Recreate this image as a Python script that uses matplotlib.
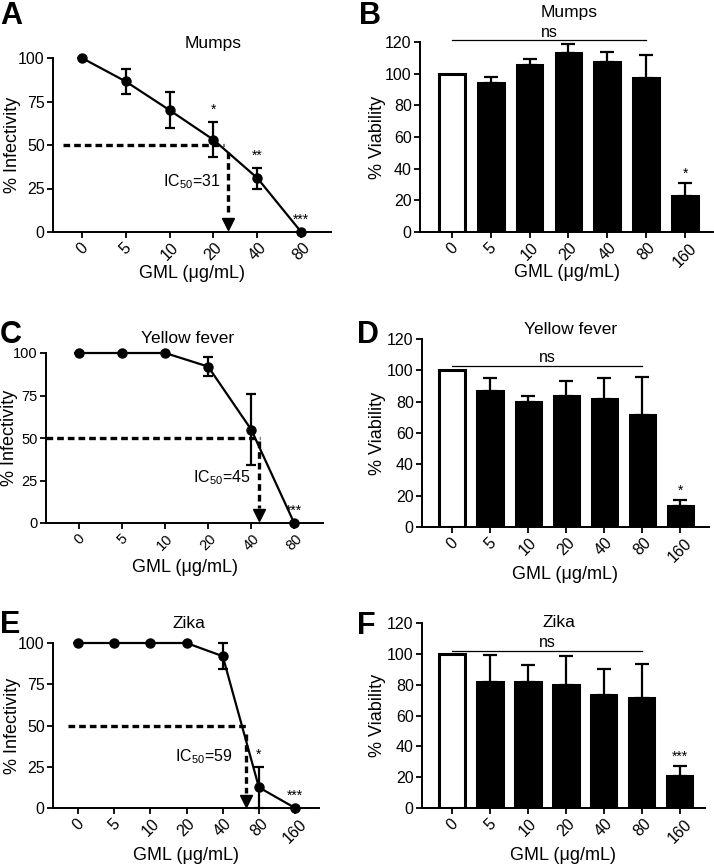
#!/usr/bin/env python3
# -*- coding=utf-8 -*-
from matplotlib import pyplot as plt

plt.rcParams['font.family'] = ['Liberation Sans', 'DejaVu Sans']
plt.rcParams['mathtext.fontset'] = 'custom'
plt.rcParams['mathtext.rm'] = 'Liberation Sans'
plt.rcParams['mathtext.it'] = 'Liberation Sans'

# 感染率数据 (A, C, E)
a_doses = ['0', '5', '10', '20', '40', '80']
a_mean = [100, 86.5, 70, 53, 31, 0]
a_err = [0, 7, 10.5, 10, 6, 0]
a_stars = ['', '', '', '*', '**', '***']

c_doses = ['0', '5', '10', '20', '40', '80']
c_mean = [100, 100, 100, 92, 55, 0]
c_err = [0, 0, 0, 5.5, 21, 0]
c_stars = ['', '', '', '', '', '***']

e_doses = ['0', '5', '10', '20', '40', '80', '160']
e_mean = [100, 100, 100, 100, 92, 12.5, 0]
e_err = [0, 0, 0, 0, 8, 12.5, 0]
e_stars = ['', '', '', '', '', '*', '***']

# 活力数据 (B, D, F)
bar_doses = ['0', '5', '10', '20', '40', '80', '160']
b_mean = [100, 94, 105.5, 113, 107.5, 97.5, 22.5]
b_err = [0, 4, 4, 5.5, 6.5, 14, 8.5]
b_stars = ['', '', '', '', '', '', '*']

d_mean = [100, 87, 79.5, 83.5, 81.5, 71.5, 13.5]
d_err = [0, 8, 4, 10, 13.5, 24.5, 3.5]
d_stars = ['', '', '', '', '', '', '*']

f_mean = [100, 82, 82, 80, 73.5, 71.5, 20.5]
f_err = [0, 17, 11, 18.5, 16.5, 22, 6.5]
f_stars = ['', '', '', '', '', '', '***']

W, H = 714, 865
fig = plt.figure(figsize=(W / 100, H / 100), dpi=100)


def add_ax(left, top, right, bottom):
    return fig.add_axes([left / W, 1 - bottom / H, (right - left) / W, (bottom - top) / H])


def style(ax, labels, xlim, ymax, yticks, ylabel, xlab_y, ylab_x, tsize=11.5):
    for s in ['top', 'right']:
        ax.spines[s].set_visible(False)
    for s in ['left', 'bottom']:
        ax.spines[s].set_linewidth(1.4)
    ax.tick_params(direction='out', length=4, width=1.3, labelsize=tsize, pad=2)
    ax.set_xticks(range(len(labels)))
    ax.set_xticklabels(labels, rotation=45)
    ax.set_xlim(*xlim)
    ax.set_ylim(0, ymax)
    ax.set_yticks(yticks)
    ax.set_ylabel(ylabel, fontsize=13)
    ax.set_xlabel('GML (μg/mL)', fontsize=13)
    ax.yaxis.set_label_coords(ylab_x, 0.5)
    ax.xaxis.set_label_coords(0.5, xlab_y)


def line_panel(ax, labels, mean, err, stars, title, title_pos, xlim,
               hline, vline, ic_text, ic_pos, xlab_y, ylab_x, tsize=11.5):
    x = list(range(len(labels)))
    ax.errorbar(x, mean, yerr=err, color='k', lw=1.6, marker='o', ms=6.5,
                capsize=3.5, elinewidth=1.6, capthick=1.6, clip_on=False, zorder=3)
    # IC50 虚线和箭头
    ax.plot(hline[:2], [hline[2], hline[2]], color='k', lw=2.4, dashes=(2.0, 1.2))
    ax.plot([vline[0], vline[0]], [vline[1], 9], color='k', lw=2.4, dashes=(2.0, 1.2))
    ax.plot([vline[0]], [4.5], marker='v', color='k', ms=9, clip_on=False)
    ax.text(ic_pos[0], ic_pos[1], ic_text, ha='right', va='center', fontsize=11.5)
    for xi, m, e, s in zip(x, mean, err, stars):
        if s:
            ax.text(xi, m + e + 3, s, ha='center', va='bottom', fontsize=10)
    ax.text(title_pos[0], title_pos[1], title, transform=ax.transAxes,
            ha='center', va='center', fontsize=12.5)
    style(ax, labels, xlim, 100, [0, 25, 50, 75, 100], '% Infectivity', xlab_y, ylab_x, tsize)


def bar_panel(ax, labels, mean, err, stars, title, title_pos, xlim, ns_y, xlab_y, ylab_x):
    x = list(range(len(labels)))
    colors = ['white'] + ['black'] * (len(labels) - 1)
    ax.bar(x, mean, width=0.66, color=colors, edgecolor='k', linewidth=2.2, zorder=2)
    ax.errorbar(x[1:], mean[1:], yerr=[[0] * (len(x) - 1), err[1:]], fmt='none',
                ecolor='k', elinewidth=1.6, capsize=5, capthick=1.6, zorder=1)
    for xi, m, e, s in zip(x, mean, err, stars):
        if s:
            ax.text(xi, m + e + 1.5, s, ha='center', va='bottom', fontsize=10)
    # ns 横线
    ax.plot([0, 5], [ns_y, ns_y], color='k', lw=0.9, clip_on=False)
    ax.text(2.5, ns_y + 0.5, 'ns', ha='center', va='bottom', fontsize=11.5)
    ax.text(title_pos[0], title_pos[1], title, transform=ax.transAxes,
            ha='center', va='center', fontsize=12.5)
    style(ax, labels, xlim, 120, range(0, 121, 20), '% Viability', xlab_y, ylab_x)


ax_a = add_ax(53, 58, 331, 232)
line_panel(ax_a, a_doses, a_mean, a_err, a_stars, 'Mumps', (0.576, 1.086),
           (-0.66, 5.68), (-0.43, 3.23, 50), (3.32, 46), 'IC$_{50}$=31', (3.15, 29),
           -0.19, -0.115)

ax_b = add_ax(420, 42, 713, 232)
bar_panel(ax_b, bar_doses, b_mean, b_err, b_stars, 'Mumps', (0.51, 1.153),
          (-0.82, 6.72), 121, -0.17, -0.115)

ax_c = add_ax(46, 353, 323, 523)
line_panel(ax_c, c_doses, c_mean, c_err, c_stars, 'Yellow fever', (0.51, 1.088),
           (-0.77, 5.67), (-0.77, 4.2, 50), (4.19, 48), 'IC$_{50}$=45', (3.98, 26.5),
           -0.21, -0.1, tsize=10.5)

ax_d = add_ax(422, 339, 709, 527)
bar_panel(ax_d, bar_doses, d_mean, d_err, d_stars, 'Yellow fever', (0.516, 1.048),
          (-0.79, 6.76), 103, -0.21, -0.125)

ax_e = add_ax(53, 643, 319, 808)
line_panel(ax_e, e_doses, e_mean, e_err, e_stars, 'Zika', (0.51, 1.12),
           (-0.69, 6.66), (-0.28, 4.69, 50), (4.64, 45), 'IC$_{50}$=59', (4.25, 31),
           -0.235, -0.12)

ax_f = add_ax(422, 623, 705, 808)
bar_panel(ax_f, bar_doses, f_mean, f_err, f_stars, 'Zika', (0.484, 1.005),
          (-0.79, 6.66), 102, -0.21, -0.127)

# 面板字母
for letter, px, py in [('A', 0, 1), ('B', 359, 1), ('C', 0, 320),
                       ('D', 357, 320), ('E', 0, 610), ('F', 357, 611)]:
    fig.text(px / W, 1 - py / H, letter, fontsize=22, fontweight='bold',
             ha='left', va='top')

plt.savefig('out.png', dpi=100)
